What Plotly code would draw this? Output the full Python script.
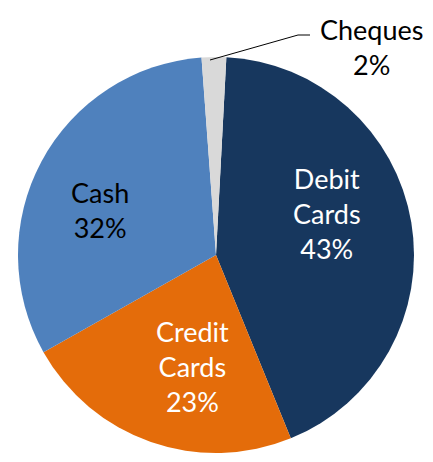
import plotly.graph_objects as go

categories = ["Debit Cards", "Credit Cards", "Cash", "Cheques"]
label_lines = [["Debit", "Cards"], ["Credit", "Cards"], ["Cash"], ["Cheques"]]
shares = [43, 23, 32, 2]
colors = ["#17375E", "#E46C0A", "#4F81BD", "#D9D9D9"]
text_colors = ["white", "white", "black", "black"]

# page body has an 8px margin; work in page pixels and convert
OFF = 8
W, H = 433 - OFF, 462 - OFF
L, T, S = 18 - OFF, 57 - OFF, 396
R, B = W - L - S, H - T - S

def px(x, y):
    return (x - OFF - L) / S, 1 - (y - OFF - T) / S

# label centres in page pixels (layout, not data)
label_pos = [(327, 214), (192, 366), (100, 210), (371, 47)]
FONT = "Lato, Calibri, sans-serif"
FS = 27

fig = go.Figure(go.Pie(
    labels=categories,
    values=shares,
    sort=False,
    direction="clockwise",
    rotation=3,
    marker=dict(colors=colors, line=dict(width=0)),
    textinfo="none",
    showlegend=False,
    hoverinfo="label+percent",
))

for lines, v, c, (x, y) in zip(label_lines, shares, text_colors, label_pos):
    xp, yp = px(x, y)
    fig.add_annotation(
        x=xp, y=yp, xref="paper", yref="paper",
        text="<br>".join(lines + [f"{v}%"]),
        showarrow=False,
        font=dict(family=FONT, size=FS, color=c),
        xanchor="center", yanchor="middle",
    )

# leader line for Cheques
pts = [(210, 60), (298, 35), (310, 35)]
for (xa, ya), (xb, yb) in zip(pts[:-1], pts[1:]):
    x0, y0 = px(xa, ya)
    x1, y1 = px(xb, yb)
    fig.add_shape(type="line", xref="paper", yref="paper",
                  x0=x0, y0=y0, x1=x1, y1=y1,
                  line=dict(color="black", width=1))

fig.update_layout(
    width=W, height=H,
    margin=dict(l=L, r=R, t=T, b=B),
    paper_bgcolor="white",
    plot_bgcolor="white",
)
fig.write_html("out.html")
